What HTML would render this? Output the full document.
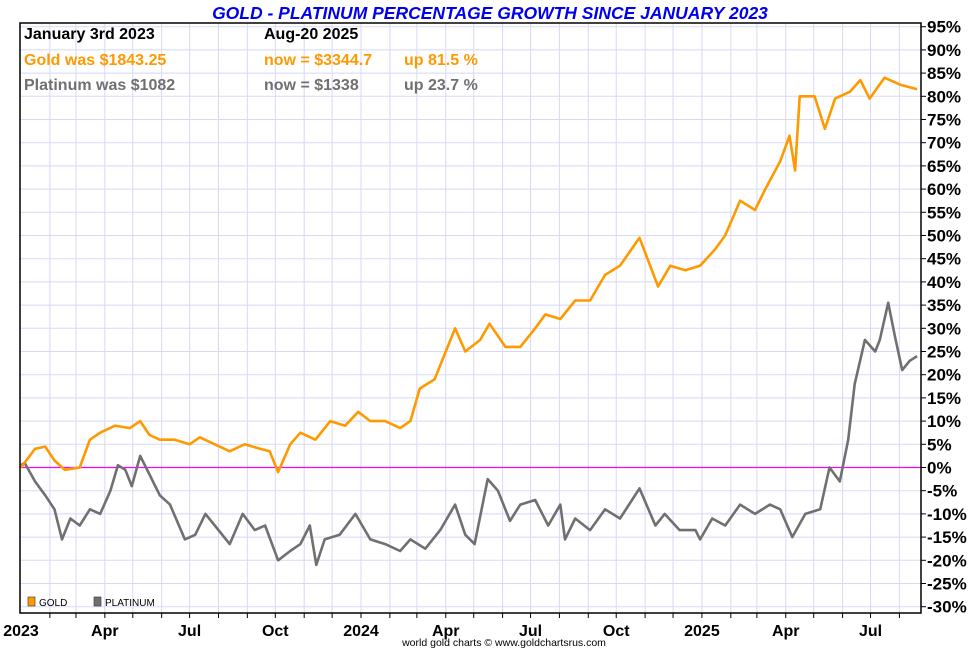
<!DOCTYPE html>
<html><head><meta charset="utf-8"><style>
html,body{margin:0;padding:0;background:#fff;}
svg{display:block;font-family:"Liberation Sans",Arial,sans-serif;}
</style></head><body>
<svg id="chart" width="980" height="650" viewBox="0 0 980 650" xmlns="http://www.w3.org/2000/svg">
<text x="490" y="19" text-anchor="middle" font-size="17.5" font-weight="bold" font-style="italic" fill="#0000ee">GOLD - PLATINUM PERCENTAGE GROWTH SINCE JANUARY 2023</text>
<g id="grid"></g>
<line id="zeroline" x1="20" x2="921" stroke="#ff00ff" stroke-width="1.3"/>
<g id="series"></g>
<rect x="20" y="23" width="901" height="590" fill="none" stroke="#000" stroke-width="1.5"/>
<g id="yaxis"></g>
<g id="xaxis"></g>
<g font-size="16" font-weight="bold">
<text x="24" y="39" fill="#000">January 3rd 2023</text>
<text x="264" y="39" fill="#000">Aug-20  2025</text>
<text x="24" y="65" fill="#ff9900">Gold was $1843.25</text>
<text x="264" y="65" fill="#ff9900">now = $3344.7</text>
<text x="404" y="65" fill="#ff9900">up 81.5 %</text>
<text x="24" y="90" fill="#707070">Platinum was $1082</text>
<text x="264" y="90" fill="#707070">now = $1338</text>
<text x="404" y="90" fill="#707070">up 23.7 %</text>
</g>
<g font-size="10">
<rect x="28" y="597" width="7" height="9" fill="#ff9900" stroke="#333" stroke-width="0.6"/>
<text x="39" y="606" fill="#000">GOLD</text>
<rect x="94" y="597" width="7" height="9" fill="#707070" stroke="#333" stroke-width="0.6"/>
<text x="105" y="606" fill="#000">PLATINUM</text>
</g>
<text x="504" y="646" text-anchor="middle" font-size="10.5" fill="#000">world gold charts © www.goldchartsrus.com</text>
</svg>
<script>
const goldDays=[0,15,26,36,47,63,74,85,101,117,128,138,149,165,181,192,208,224,240,257,267,276,289,300,316,332,348,362,375,391,407,418,428,444,466,477,493,503,520,536,552,563,579,595,611,627,643,664,684,697,713,729,745,756,772,788,799,815,825,831,836,852,863,874,890,901,911,927,944,962];
const goldPct=[0,4,4.5,1.5,-0.5,0,6,7.5,9,8.5,10,7,6,6,5,6.5,5,3.5,5,4,3.5,-1,5,7.5,6,10,9,12,10,10,8.5,10,17,19,30,25,27.5,31,26,26,30,33,32,36,36,41.5,43.5,49.5,39,43.5,42.5,43.5,47,50,57.5,55.5,60,66,71.5,64,80,80,73,79.5,81,83.5,79.5,84,82.5,81.5];
const platDays=[0,4,15,26,36,44,53,63,74,85,96,104,112,119,128,138,149,160,176,187,198,208,224,238,251,262,276,289,300,310,317,326,342,359,375,391,407,418,434,450,466,477,487,501,512,525,536,552,566,579,584,595,611,627,643,664,681,691,707,724,729,742,756,772,788,804,815,828,842,858,868,879,888,895,906,917,922,931,938,946,954,962];
const platPct=[0.5,1,-3,-6,-9,-15.5,-11,-12.5,-9,-10,-5,0.5,-0.5,-4,2.5,-1.5,-6,-8,-15.5,-14.5,-10,-12.5,-16.5,-10,-13.5,-12.5,-20,-18,-16.5,-12.5,-21,-15.5,-14.5,-10,-15.5,-16.5,-18,-15.5,-17.5,-13.5,-8,-14.5,-16.5,-2.5,-5,-11.5,-8,-7,-12.5,-8,-15.5,-11,-13.5,-9,-11,-4.5,-12.5,-10,-13.5,-13.5,-15.5,-11,-12.5,-8,-10,-8,-9,-15,-10,-9,0,-3,6,18,27.5,25,27.5,35.5,28.5,21,23,24];
const yTicks=[95,90,85,80,75,70,65,60,55,50,45,40,35,30,25,20,15,10,5,0,-5,-10,-15,-20,-25,-30];
const xLabels=["2023","Apr","Jul","Oct","2024","Apr","Jul","Oct","2025","Apr","Jul"];
const xLabelDays=[0,90,181,273,365,456,547,639,731,821,912];

const NS="http://www.w3.org/2000/svg";
const L=20,R=921,T=23,B=613;
function xs(d){return 21+d*0.9315;}
function ys(v){return 467.5-v*4.64;}
function mk(tag,attrs,parent){const e=document.createElementNS(NS,tag);for(const k in attrs)e.setAttribute(k,attrs[k]);parent.appendChild(e);return e;}
const grid=document.getElementById('grid'),yax=document.getElementById('yaxis'),xax=document.getElementById('xaxis'),ser=document.getElementById('series');
for(let m=1;m<32;m++){const dt=new Date(Date.UTC(2023,m,1));const d=(dt-Date.UTC(2023,0,1))/864e5;const x=xs(d);if(x>=R)break;
 const g=mk('line',{x1:x,x2:x,y1:T,y2:B,stroke:'#d8d8f6','stroke-width':1},grid);
 
 
 const t=mk('line',{x1:x,x2:x,y1:B,y2:B+5,stroke:'#000','stroke-width':1},xax);
 
 }
yTicks.forEach(v=>{const y=ys(v);
 const g=mk('line',{x1:L,x2:R,y1:y,y2:y,stroke:'#d8d8f6','stroke-width':1},grid);
 
 
 const t=mk('line',{x1:R,x2:R+5,y1:y,y2:y,stroke:'#000','stroke-width':1},yax);
 
 
 const tx=mk('text',{x:927,y:y+6,'font-size':17,'font-weight':'bold',fill:'#000'},yax);
 tx.textContent=v+'%';
 
 });
const z=document.getElementById('zeroline');z.setAttribute('y1',ys(0));z.setAttribute('y2',ys(0));
xLabels.forEach((s,i)=>{const tx=mk('text',{x:xs(xLabelDays[i]),y:636,'text-anchor':'middle','font-size':16,'font-weight':'bold',fill:'#000'},xax);
 tx.textContent=s;
 
 });
function line(days,vals,color,name){const p=days.map((d,i)=>(i?'L':'M')+xs(d).toFixed(1)+','+ys(vals[i]).toFixed(1)).join('');
 const e=mk('path',{d:p,fill:'none',stroke:color,'stroke-width':2.6,'stroke-linejoin':'round'},ser);
 
 }
line(platDays,platPct,'#707070','platinum-line');
line(goldDays,goldPct,'#ff9900','gold-line');
</script>
</body></html>
